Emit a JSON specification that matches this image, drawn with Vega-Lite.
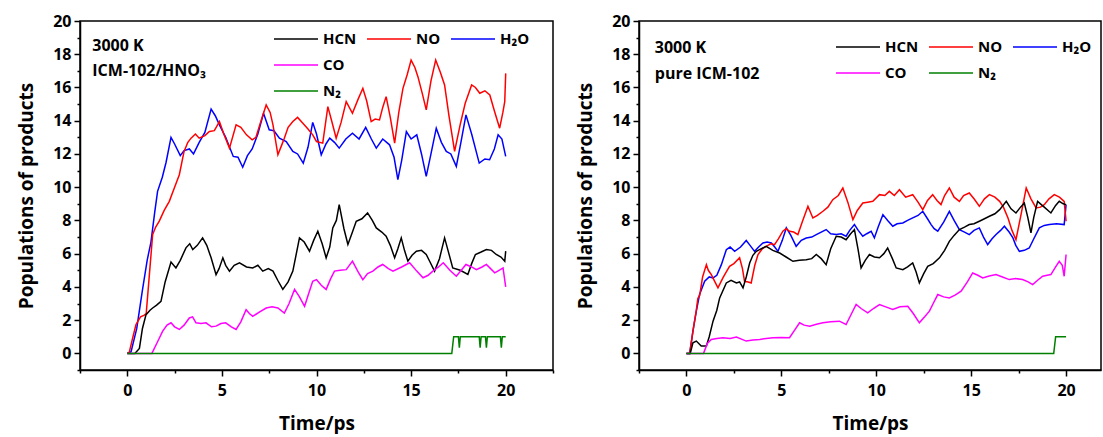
{
"$schema": "https://vega.github.io/schema/vega-lite/v6.json",
"padding": {"left": 16, "top": 12, "right": 0, "bottom": 0},
"background": "white",
"config": {
  "font": "Open Sans",
  "view": {"stroke": "black", "strokeWidth": 1.5},
  "axis": {"grid": false, "domainColor": "black", "domainWidth": 1.5, "tickColor": "black", "tickWidth": 1.5, "tickSize": 6, "labelFont": "Open Sans", "labelFontWeight": "bold", "labelFontSize": 16, "labelColor": "black", "labelPadding": 3, "titleFont": "Open Sans", "titleFontWeight": "bold", "titleFontSize": 19, "titleColor": "black"},
  "legend": {"orient": "none", "title": null, "direction": "horizontal", "symbolType": "M-2,0H2", "symbolSize": 484, "symbolStrokeWidth": 1.5, "labelFont": "Open Sans", "labelFontSize": 15, "labelFontWeight": "bold", "labelColor": "black", "labelOffset": 15, "columnPadding": 7, "rowPadding": 6, "padding": 0, "columns": 3}
},
"spacing": 20,
"resolve": {"scale": {"color": "independent"}},
"datasets": {
"left": [
{"s":"H₂O","t":0,"v":0},{"s":"H₂O","t":0.2,"v":0.1},{"s":"H₂O","t":0.5,"v":1.5},{"s":"H₂O","t":0.8,"v":3.8},{"s":"H₂O","t":1.05,"v":5.6},{"s":"H₂O","t":1.25,"v":6.7},{"s":"H₂O","t":1.45,"v":8.5},{"s":"H₂O","t":1.6,"v":9.75},{"s":"H₂O","t":1.85,"v":10.6},{"s":"H₂O","t":2.05,"v":11.5},{"s":"H₂O","t":2.31,"v":13.0},{"s":"H₂O","t":2.5,"v":12.6},{"s":"H₂O","t":2.8,"v":11.9},{"s":"H₂O","t":3.0,"v":12.2},{"s":"H₂O","t":3.28,"v":12.3},{"s":"H₂O","t":3.5,"v":12.0},{"s":"H₂O","t":3.8,"v":12.7},{"s":"H₂O","t":4.1,"v":13.3},{"s":"H₂O","t":4.43,"v":14.7},{"s":"H₂O","t":4.65,"v":14.3},{"s":"H₂O","t":4.87,"v":13.75},{"s":"H₂O","t":5.2,"v":13.0},{"s":"H₂O","t":5.6,"v":11.85},{"s":"H₂O","t":5.85,"v":11.8},{"s":"H₂O","t":6.1,"v":11.2},{"s":"H₂O","t":6.35,"v":11.9},{"s":"H₂O","t":6.6,"v":12.3},{"s":"H₂O","t":6.9,"v":13.2},{"s":"H₂O","t":7.2,"v":14.45},{"s":"H₂O","t":7.5,"v":13.45},{"s":"H₂O","t":7.75,"v":13.4},{"s":"H₂O","t":8.04,"v":12.95},{"s":"H₂O","t":8.4,"v":12.75},{"s":"H₂O","t":8.75,"v":12.15},{"s":"H₂O","t":9.0,"v":12.0},{"s":"H₂O","t":9.3,"v":11.45},{"s":"H₂O","t":9.55,"v":12.4},{"s":"H₂O","t":9.8,"v":13.9},{"s":"H₂O","t":10.0,"v":13.2},{"s":"H₂O","t":10.25,"v":11.95},{"s":"H₂O","t":10.5,"v":12.6},{"s":"H₂O","t":10.7,"v":12.95},{"s":"H₂O","t":10.95,"v":12.7},{"s":"H₂O","t":11.2,"v":12.35},{"s":"H₂O","t":11.55,"v":12.9},{"s":"H₂O","t":11.9,"v":13.25},{"s":"H₂O","t":12.25,"v":12.9},{"s":"H₂O","t":12.6,"v":13.6},{"s":"H₂O","t":12.9,"v":12.9},{"s":"H₂O","t":13.16,"v":12.35},{"s":"H₂O","t":13.5,"v":12.9},{"s":"H₂O","t":13.86,"v":12.55},{"s":"H₂O","t":14.1,"v":11.8},{"s":"H₂O","t":14.3,"v":10.45},{"s":"H₂O","t":14.5,"v":11.6},{"s":"H₂O","t":14.75,"v":13.35},{"s":"H₂O","t":15.0,"v":12.9},{"s":"H₂O","t":15.3,"v":13.15},{"s":"H₂O","t":15.55,"v":12.0},{"s":"H₂O","t":15.8,"v":10.65},{"s":"H₂O","t":16.05,"v":12.0},{"s":"H₂O","t":16.33,"v":13.55},{"s":"H₂O","t":16.6,"v":12.7},{"s":"H₂O","t":16.86,"v":12.15},{"s":"H₂O","t":17.1,"v":12.0},{"s":"H₂O","t":17.39,"v":11.25},{"s":"H₂O","t":17.65,"v":12.8},{"s":"H₂O","t":17.9,"v":14.35},{"s":"H₂O","t":18.2,"v":13.2},{"s":"H₂O","t":18.6,"v":11.45},{"s":"H₂O","t":18.9,"v":11.7},{"s":"H₂O","t":19.15,"v":11.65},{"s":"H₂O","t":19.4,"v":12.3},{"s":"H₂O","t":19.6,"v":13.15},{"s":"H₂O","t":19.8,"v":12.9},{"s":"H₂O","t":20.0,"v":11.85},
{"s":"NO","t":0,"v":0},{"s":"NO","t":0.1,"v":0.05},{"s":"NO","t":0.3,"v":1.0},{"s":"NO","t":0.46,"v":1.74},{"s":"NO","t":0.7,"v":2.2},{"s":"NO","t":0.9,"v":2.3},{"s":"NO","t":1.0,"v":2.4},{"s":"NO","t":1.15,"v":4.5},{"s":"NO","t":1.34,"v":7.15},{"s":"NO","t":1.5,"v":7.6},{"s":"NO","t":1.69,"v":7.96},{"s":"NO","t":1.95,"v":8.6},{"s":"NO","t":2.22,"v":9.15},{"s":"NO","t":2.5,"v":10.0},{"s":"NO","t":2.75,"v":10.75},{"s":"NO","t":3.0,"v":12.15},{"s":"NO","t":3.2,"v":12.7},{"s":"NO","t":3.37,"v":12.95},{"s":"NO","t":3.6,"v":13.2},{"s":"NO","t":3.8,"v":12.95},{"s":"NO","t":4.1,"v":13.1},{"s":"NO","t":4.34,"v":13.35},{"s":"NO","t":4.6,"v":13.4},{"s":"NO","t":4.87,"v":13.95},{"s":"NO","t":5.1,"v":13.2},{"s":"NO","t":5.4,"v":12.35},{"s":"NO","t":5.75,"v":13.75},{"s":"NO","t":6.0,"v":13.6},{"s":"NO","t":6.3,"v":13.15},{"s":"NO","t":6.6,"v":12.85},{"s":"NO","t":6.8,"v":13.0},{"s":"NO","t":7.0,"v":13.75},{"s":"NO","t":7.34,"v":14.95},{"s":"NO","t":7.55,"v":14.5},{"s":"NO","t":7.7,"v":13.75},{"s":"NO","t":7.96,"v":11.95},{"s":"NO","t":8.15,"v":12.5},{"s":"NO","t":8.3,"v":12.95},{"s":"NO","t":8.5,"v":13.6},{"s":"NO","t":8.75,"v":13.95},{"s":"NO","t":9.0,"v":14.2},{"s":"NO","t":9.28,"v":13.85},{"s":"NO","t":9.55,"v":13.5},{"s":"NO","t":9.8,"v":13.15},{"s":"NO","t":10.0,"v":12.75},{"s":"NO","t":10.33,"v":12.65},{"s":"NO","t":10.6,"v":14.85},{"s":"NO","t":10.8,"v":14.0},{"s":"NO","t":11.04,"v":12.95},{"s":"NO","t":11.3,"v":13.9},{"s":"NO","t":11.57,"v":15.15},{"s":"NO","t":11.9,"v":14.45},{"s":"NO","t":12.2,"v":15.3},{"s":"NO","t":12.45,"v":15.95},{"s":"NO","t":12.65,"v":15.2},{"s":"NO","t":12.89,"v":13.95},{"s":"NO","t":13.1,"v":14.1},{"s":"NO","t":13.33,"v":14.05},{"s":"NO","t":13.5,"v":14.8},{"s":"NO","t":13.68,"v":15.45},{"s":"NO","t":13.9,"v":14.2},{"s":"NO","t":14.13,"v":12.65},{"s":"NO","t":14.35,"v":14.5},{"s":"NO","t":14.57,"v":15.95},{"s":"NO","t":14.8,"v":16.8},{"s":"NO","t":15.0,"v":17.65},{"s":"NO","t":15.2,"v":17.2},{"s":"NO","t":15.36,"v":16.65},{"s":"NO","t":15.6,"v":15.6},{"s":"NO","t":15.8,"v":14.65},{"s":"NO","t":16.05,"v":16.4},{"s":"NO","t":16.3,"v":17.65},{"s":"NO","t":16.55,"v":16.9},{"s":"NO","t":16.77,"v":16.15},{"s":"NO","t":17.0,"v":14.3},{"s":"NO","t":17.3,"v":12.15},{"s":"NO","t":17.6,"v":13.8},{"s":"NO","t":17.86,"v":15.05},{"s":"NO","t":18.2,"v":16.15},{"s":"NO","t":18.4,"v":16.0},{"s":"NO","t":18.63,"v":15.65},{"s":"NO","t":18.9,"v":15.8},{"s":"NO","t":19.16,"v":15.55},{"s":"NO","t":19.4,"v":14.6},{"s":"NO","t":19.68,"v":13.55},{"s":"NO","t":19.85,"v":14.5},{"s":"NO","t":19.95,"v":15.15},{"s":"NO","t":20.0,"v":16.85},
{"s":"HCN","t":0,"v":0},{"s":"HCN","t":0.4,"v":0},{"s":"HCN","t":0.64,"v":0.3},{"s":"HCN","t":0.8,"v":1.5},{"s":"HCN","t":0.99,"v":2.33},{"s":"HCN","t":1.2,"v":2.6},{"s":"HCN","t":1.34,"v":2.73},{"s":"HCN","t":1.55,"v":2.9},{"s":"HCN","t":1.78,"v":3.13},{"s":"HCN","t":2.0,"v":4.3},{"s":"HCN","t":2.31,"v":5.5},{"s":"HCN","t":2.57,"v":5.14},{"s":"HCN","t":2.8,"v":5.6},{"s":"HCN","t":3.1,"v":6.35},{"s":"HCN","t":3.3,"v":6.6},{"s":"HCN","t":3.46,"v":6.25},{"s":"HCN","t":3.7,"v":6.5},{"s":"HCN","t":3.98,"v":6.95},{"s":"HCN","t":4.2,"v":6.5},{"s":"HCN","t":4.43,"v":5.75},{"s":"HCN","t":4.69,"v":4.74},{"s":"HCN","t":4.85,"v":5.1},{"s":"HCN","t":5.05,"v":5.75},{"s":"HCN","t":5.2,"v":5.3},{"s":"HCN","t":5.4,"v":4.95},{"s":"HCN","t":5.65,"v":5.3},{"s":"HCN","t":5.93,"v":5.45},{"s":"HCN","t":6.3,"v":5.2},{"s":"HCN","t":6.63,"v":5.14},{"s":"HCN","t":6.9,"v":5.3},{"s":"HCN","t":7.16,"v":4.95},{"s":"HCN","t":7.45,"v":5.1},{"s":"HCN","t":7.7,"v":4.95},{"s":"HCN","t":7.95,"v":4.4},{"s":"HCN","t":8.22,"v":3.85},{"s":"HCN","t":8.5,"v":4.3},{"s":"HCN","t":8.75,"v":4.95},{"s":"HCN","t":9.1,"v":6.95},{"s":"HCN","t":9.35,"v":6.7},{"s":"HCN","t":9.63,"v":6.15},{"s":"HCN","t":9.85,"v":6.8},{"s":"HCN","t":10.07,"v":7.35},{"s":"HCN","t":10.3,"v":6.6},{"s":"HCN","t":10.51,"v":5.75},{"s":"HCN","t":10.7,"v":6.4},{"s":"HCN","t":10.86,"v":7.55},{"s":"HCN","t":11.05,"v":8.0},{"s":"HCN","t":11.2,"v":8.95},{"s":"HCN","t":11.45,"v":7.5},{"s":"HCN","t":11.66,"v":6.55},{"s":"HCN","t":11.9,"v":7.3},{"s":"HCN","t":12.1,"v":7.95},{"s":"HCN","t":12.4,"v":8.1},{"s":"HCN","t":12.7,"v":8.45},{"s":"HCN","t":12.95,"v":8.0},{"s":"HCN","t":13.16,"v":7.55},{"s":"HCN","t":13.45,"v":7.3},{"s":"HCN","t":13.68,"v":7.05},{"s":"HCN","t":13.9,"v":6.5},{"s":"HCN","t":14.13,"v":5.75},{"s":"HCN","t":14.3,"v":6.3},{"s":"HCN","t":14.48,"v":6.95},{"s":"HCN","t":14.65,"v":6.2},{"s":"HCN","t":14.83,"v":5.55},{"s":"HCN","t":15.05,"v":5.9},{"s":"HCN","t":15.28,"v":6.15},{"s":"HCN","t":15.55,"v":6.2},{"s":"HCN","t":15.8,"v":5.95},{"s":"HCN","t":16.0,"v":5.5},{"s":"HCN","t":16.24,"v":4.95},{"s":"HCN","t":16.5,"v":5.7},{"s":"HCN","t":16.77,"v":6.95},{"s":"HCN","t":16.95,"v":6.2},{"s":"HCN","t":17.2,"v":5.14},{"s":"HCN","t":17.6,"v":5.0},{"s":"HCN","t":18.0,"v":4.75},{"s":"HCN","t":18.2,"v":5.4},{"s":"HCN","t":18.4,"v":5.95},{"s":"HCN","t":18.7,"v":6.1},{"s":"HCN","t":18.98,"v":6.25},{"s":"HCN","t":19.25,"v":6.2},{"s":"HCN","t":19.5,"v":5.95},{"s":"HCN","t":19.75,"v":5.8},{"s":"HCN","t":19.95,"v":5.55},{"s":"HCN","t":20.0,"v":6.15},
{"s":"CO","t":0,"v":0},{"s":"CO","t":1.3,"v":0},{"s":"CO","t":1.6,"v":0.7},{"s":"CO","t":1.87,"v":1.34},{"s":"CO","t":2.1,"v":1.7},{"s":"CO","t":2.31,"v":1.84},{"s":"CO","t":2.5,"v":1.6},{"s":"CO","t":2.75,"v":1.44},{"s":"CO","t":3.0,"v":1.7},{"s":"CO","t":3.28,"v":2.13},{"s":"CO","t":3.45,"v":2.2},{"s":"CO","t":3.63,"v":1.84},{"s":"CO","t":3.9,"v":1.8},{"s":"CO","t":4.16,"v":1.84},{"s":"CO","t":4.45,"v":1.6},{"s":"CO","t":4.69,"v":1.64},{"s":"CO","t":4.95,"v":1.8},{"s":"CO","t":5.2,"v":1.84},{"s":"CO","t":5.5,"v":1.6},{"s":"CO","t":5.75,"v":1.44},{"s":"CO","t":6.0,"v":1.9},{"s":"CO","t":6.28,"v":2.63},{"s":"CO","t":6.45,"v":2.4},{"s":"CO","t":6.63,"v":2.23},{"s":"CO","t":7.0,"v":2.5},{"s":"CO","t":7.34,"v":2.73},{"s":"CO","t":7.65,"v":2.8},{"s":"CO","t":7.96,"v":2.73},{"s":"CO","t":8.3,"v":2.43},{"s":"CO","t":8.55,"v":3.0},{"s":"CO","t":8.84,"v":3.85},{"s":"CO","t":9.1,"v":3.4},{"s":"CO","t":9.37,"v":2.83},{"s":"CO","t":9.6,"v":3.65},{"s":"CO","t":9.8,"v":4.34},{"s":"CO","t":10.0,"v":4.44},{"s":"CO","t":10.25,"v":4.1},{"s":"CO","t":10.51,"v":3.85},{"s":"CO","t":10.75,"v":4.5},{"s":"CO","t":10.95,"v":4.95},{"s":"CO","t":11.25,"v":5.0},{"s":"CO","t":11.57,"v":5.04},{"s":"CO","t":11.9,"v":5.55},{"s":"CO","t":12.2,"v":4.9},{"s":"CO","t":12.45,"v":4.44},{"s":"CO","t":12.7,"v":4.8},{"s":"CO","t":12.98,"v":4.95},{"s":"CO","t":13.25,"v":5.2},{"s":"CO","t":13.5,"v":5.35},{"s":"CO","t":13.8,"v":5.1},{"s":"CO","t":14.04,"v":4.95},{"s":"CO","t":14.5,"v":5.2},{"s":"CO","t":14.92,"v":5.45},{"s":"CO","t":15.3,"v":4.95},{"s":"CO","t":15.63,"v":4.55},{"s":"CO","t":15.9,"v":4.7},{"s":"CO","t":16.15,"v":4.95},{"s":"CO","t":16.45,"v":5.2},{"s":"CO","t":16.7,"v":5.45},{"s":"CO","t":17.05,"v":5.0},{"s":"CO","t":17.39,"v":4.64},{"s":"CO","t":17.65,"v":5.0},{"s":"CO","t":17.9,"v":5.35},{"s":"CO","t":18.2,"v":5.2},{"s":"CO","t":18.45,"v":5.04},{"s":"CO","t":18.75,"v":5.2},{"s":"CO","t":18.98,"v":5.35},{"s":"CO","t":19.2,"v":5.1},{"s":"CO","t":19.42,"v":4.85},{"s":"CO","t":19.65,"v":5.0},{"s":"CO","t":19.86,"v":5.14},{"s":"CO","t":20.0,"v":4.0},
{"s":"N₂","t":0,"v":0},{"s":"N₂","t":17.15,"v":0},{"s":"N₂","t":17.25,"v":1},{"s":"N₂","t":17.5,"v":1},{"s":"N₂","t":17.55,"v":0.35},{"s":"N₂","t":17.6,"v":1},{"s":"N₂","t":18.6,"v":1},{"s":"N₂","t":18.65,"v":0.35},{"s":"N₂","t":18.7,"v":1},{"s":"N₂","t":18.93,"v":1},{"s":"N₂","t":18.98,"v":0.35},{"s":"N₂","t":19.03,"v":1},{"s":"N₂","t":19.72,"v":1},{"s":"N₂","t":19.77,"v":0.35},{"s":"N₂","t":19.82,"v":1},{"s":"N₂","t":20.0,"v":1}
],
"right": [
{"s":"H₂O","t":0,"v":0},{"s":"H₂O","t":0.17,"v":0},{"s":"H₂O","t":0.35,"v":1.4},{"s":"H₂O","t":0.52,"v":2.54},{"s":"H₂O","t":0.69,"v":3.54},{"s":"H₂O","t":0.96,"v":4.34},{"s":"H₂O","t":1.2,"v":4.6},{"s":"H₂O","t":1.4,"v":4.54},{"s":"H₂O","t":1.6,"v":4.7},{"s":"H₂O","t":1.84,"v":5.34},{"s":"H₂O","t":2.1,"v":6.24},{"s":"H₂O","t":2.3,"v":6.4},{"s":"H₂O","t":2.54,"v":6.14},{"s":"H₂O","t":2.85,"v":6.4},{"s":"H₂O","t":3.15,"v":6.79},{"s":"H₂O","t":3.35,"v":6.5},{"s":"H₂O","t":3.59,"v":6.14},{"s":"H₂O","t":3.8,"v":6.4},{"s":"H₂O","t":4.03,"v":6.64},{"s":"H₂O","t":4.25,"v":6.7},{"s":"H₂O","t":4.47,"v":6.64},{"s":"H₂O","t":4.65,"v":6.4},{"s":"H₂O","t":4.82,"v":6.14},{"s":"H₂O","t":5.05,"v":6.8},{"s":"H₂O","t":5.26,"v":7.55},{"s":"H₂O","t":5.5,"v":7.1},{"s":"H₂O","t":5.78,"v":6.44},{"s":"H₂O","t":6.05,"v":6.8},{"s":"H₂O","t":6.31,"v":6.94},{"s":"H₂O","t":6.6,"v":7.0},{"s":"H₂O","t":6.84,"v":7.15},{"s":"H₂O","t":7.1,"v":7.3},{"s":"H₂O","t":7.36,"v":7.45},{"s":"H₂O","t":7.6,"v":7.2},{"s":"H₂O","t":7.89,"v":7.15},{"s":"H₂O","t":8.15,"v":7.2},{"s":"H₂O","t":8.41,"v":7.05},{"s":"H₂O","t":8.6,"v":7.4},{"s":"H₂O","t":8.85,"v":7.75},{"s":"H₂O","t":9.05,"v":7.4},{"s":"H₂O","t":9.29,"v":7.05},{"s":"H₂O","t":9.5,"v":7.2},{"s":"H₂O","t":9.73,"v":7.35},{"s":"H₂O","t":9.9,"v":6.95},{"s":"H₂O","t":10.1,"v":7.6},{"s":"H₂O","t":10.35,"v":8.35},{"s":"H₂O","t":10.6,"v":8.0},{"s":"H₂O","t":10.87,"v":7.65},{"s":"H₂O","t":11.1,"v":7.8},{"s":"H₂O","t":11.4,"v":7.85},{"s":"H₂O","t":11.65,"v":8.0},{"s":"H₂O","t":11.92,"v":8.15},{"s":"H₂O","t":12.2,"v":8.3},{"s":"H₂O","t":12.45,"v":8.55},{"s":"H₂O","t":12.7,"v":8.1},{"s":"H₂O","t":12.89,"v":7.75},{"s":"H₂O","t":13.05,"v":7.5},{"s":"H₂O","t":13.24,"v":7.35},{"s":"H₂O","t":13.55,"v":7.9},{"s":"H₂O","t":13.85,"v":8.55},{"s":"H₂O","t":14.1,"v":8.0},{"s":"H₂O","t":14.38,"v":7.45},{"s":"H₂O","t":14.65,"v":7.3},{"s":"H₂O","t":14.9,"v":7.15},{"s":"H₂O","t":15.15,"v":7.4},{"s":"H₂O","t":15.43,"v":7.55},{"s":"H₂O","t":15.65,"v":7.0},{"s":"H₂O","t":15.87,"v":6.55},{"s":"H₂O","t":16.1,"v":6.9},{"s":"H₂O","t":16.31,"v":7.15},{"s":"H₂O","t":16.55,"v":7.4},{"s":"H₂O","t":16.75,"v":7.65},{"s":"H₂O","t":17.0,"v":7.3},{"s":"H₂O","t":17.2,"v":6.95},{"s":"H₂O","t":17.35,"v":6.5},{"s":"H₂O","t":17.54,"v":6.14},{"s":"H₂O","t":17.8,"v":6.2},{"s":"H₂O","t":18.06,"v":6.34},{"s":"H₂O","t":18.3,"v":6.9},{"s":"H₂O","t":18.59,"v":7.55},{"s":"H₂O","t":18.85,"v":7.7},{"s":"H₂O","t":19.12,"v":7.75},{"s":"H₂O","t":19.5,"v":7.8},{"s":"H₂O","t":19.9,"v":7.75},{"s":"H₂O","t":20.0,"v":8.95},
{"s":"NO","t":0,"v":0},{"s":"NO","t":0.17,"v":0},{"s":"NO","t":0.35,"v":1.4},{"s":"NO","t":0.52,"v":2.6},{"s":"NO","t":0.6,"v":3.3},{"s":"NO","t":0.7,"v":3.5},{"s":"NO","t":0.85,"v":4.6},{"s":"NO","t":1.05,"v":5.34},{"s":"NO","t":1.15,"v":5.0},{"s":"NO","t":1.31,"v":4.74},{"s":"NO","t":1.5,"v":4.3},{"s":"NO","t":1.66,"v":3.94},{"s":"NO","t":1.92,"v":4.54},{"s":"NO","t":2.1,"v":4.9},{"s":"NO","t":2.27,"v":5.24},{"s":"NO","t":2.5,"v":5.4},{"s":"NO","t":2.8,"v":5.75},{"s":"NO","t":2.95,"v":5.1},{"s":"NO","t":3.06,"v":4.34},{"s":"NO","t":3.25,"v":4.3},{"s":"NO","t":3.41,"v":4.24},{"s":"NO","t":3.6,"v":5.3},{"s":"NO","t":3.77,"v":5.95},{"s":"NO","t":4.0,"v":6.3},{"s":"NO","t":4.2,"v":6.44},{"s":"NO","t":4.45,"v":6.6},{"s":"NO","t":4.64,"v":6.54},{"s":"NO","t":4.85,"v":6.9},{"s":"NO","t":5.08,"v":7.35},{"s":"NO","t":5.25,"v":7.5},{"s":"NO","t":5.43,"v":7.35},{"s":"NO","t":5.65,"v":7.3},{"s":"NO","t":5.87,"v":7.15},{"s":"NO","t":6.1,"v":7.9},{"s":"NO","t":6.4,"v":8.85},{"s":"NO","t":6.66,"v":8.15},{"s":"NO","t":6.9,"v":8.3},{"s":"NO","t":7.19,"v":8.55},{"s":"NO","t":7.45,"v":8.8},{"s":"NO","t":7.71,"v":9.25},{"s":"NO","t":8.0,"v":9.5},{"s":"NO","t":8.24,"v":9.95},{"s":"NO","t":8.5,"v":9.1},{"s":"NO","t":8.77,"v":8.05},{"s":"NO","t":9.0,"v":8.6},{"s":"NO","t":9.29,"v":9.05},{"s":"NO","t":9.55,"v":9.1},{"s":"NO","t":9.82,"v":9.15},{"s":"NO","t":10.17,"v":9.55},{"s":"NO","t":10.45,"v":9.5},{"s":"NO","t":10.69,"v":9.75},{"s":"NO","t":10.95,"v":9.5},{"s":"NO","t":11.22,"v":9.85},{"s":"NO","t":11.55,"v":9.4},{"s":"NO","t":11.92,"v":9.55},{"s":"NO","t":12.2,"v":9.1},{"s":"NO","t":12.45,"v":8.65},{"s":"NO","t":12.7,"v":9.2},{"s":"NO","t":12.97,"v":9.55},{"s":"NO","t":13.2,"v":9.2},{"s":"NO","t":13.41,"v":8.95},{"s":"NO","t":13.6,"v":9.5},{"s":"NO","t":13.85,"v":9.95},{"s":"NO","t":14.1,"v":9.4},{"s":"NO","t":14.38,"v":9.15},{"s":"NO","t":14.6,"v":9.5},{"s":"NO","t":14.9,"v":9.65},{"s":"NO","t":15.15,"v":9.3},{"s":"NO","t":15.43,"v":8.85},{"s":"NO","t":15.7,"v":9.3},{"s":"NO","t":15.96,"v":9.55},{"s":"NO","t":16.25,"v":9.4},{"s":"NO","t":16.5,"v":9.15},{"s":"NO","t":16.7,"v":8.8},{"s":"NO","t":16.94,"v":8.15},{"s":"NO","t":17.15,"v":7.4},{"s":"NO","t":17.36,"v":6.84},{"s":"NO","t":17.6,"v":8.2},{"s":"NO","t":17.9,"v":9.95},{"s":"NO","t":18.15,"v":9.3},{"s":"NO","t":18.42,"v":8.75},{"s":"NO","t":18.65,"v":8.8},{"s":"NO","t":18.85,"v":8.95},{"s":"NO","t":19.1,"v":9.3},{"s":"NO","t":19.38,"v":9.55},{"s":"NO","t":19.65,"v":9.4},{"s":"NO","t":19.9,"v":9.15},{"s":"NO","t":20.0,"v":7.95},
{"s":"HCN","t":0,"v":0},{"s":"HCN","t":0.2,"v":0},{"s":"HCN","t":0.34,"v":0.64},{"s":"HCN","t":0.52,"v":0.74},{"s":"HCN","t":0.78,"v":0.44},{"s":"HCN","t":1.05,"v":0.44},{"s":"HCN","t":1.2,"v":1.0},{"s":"HCN","t":1.4,"v":1.94},{"s":"HCN","t":1.6,"v":2.6},{"s":"HCN","t":1.75,"v":3.34},{"s":"HCN","t":2.1,"v":4.24},{"s":"HCN","t":2.35,"v":4.4},{"s":"HCN","t":2.63,"v":4.24},{"s":"HCN","t":2.8,"v":4.3},{"s":"HCN","t":2.98,"v":3.94},{"s":"HCN","t":3.15,"v":4.6},{"s":"HCN","t":3.33,"v":5.44},{"s":"HCN","t":3.5,"v":5.9},{"s":"HCN","t":3.68,"v":6.14},{"s":"HCN","t":3.95,"v":6.3},{"s":"HCN","t":4.2,"v":6.44},{"s":"HCN","t":4.55,"v":6.2},{"s":"HCN","t":4.91,"v":6.04},{"s":"HCN","t":5.25,"v":5.8},{"s":"HCN","t":5.61,"v":5.54},{"s":"HCN","t":5.95,"v":5.6},{"s":"HCN","t":6.31,"v":5.64},{"s":"HCN","t":6.6,"v":5.7},{"s":"HCN","t":6.84,"v":5.95},{"s":"HCN","t":7.1,"v":5.7},{"s":"HCN","t":7.36,"v":5.34},{"s":"HCN","t":7.6,"v":6.3},{"s":"HCN","t":7.89,"v":7.05},{"s":"HCN","t":8.15,"v":7.0},{"s":"HCN","t":8.41,"v":6.84},{"s":"HCN","t":8.65,"v":7.2},{"s":"HCN","t":8.85,"v":7.45},{"s":"HCN","t":9.05,"v":6.2},{"s":"HCN","t":9.2,"v":5.14},{"s":"HCN","t":9.42,"v":5.6},{"s":"HCN","t":9.64,"v":5.95},{"s":"HCN","t":9.9,"v":5.8},{"s":"HCN","t":10.17,"v":5.75},{"s":"HCN","t":10.4,"v":6.0},{"s":"HCN","t":10.6,"v":6.34},{"s":"HCN","t":10.85,"v":5.7},{"s":"HCN","t":11.05,"v":5.14},{"s":"HCN","t":11.4,"v":5.04},{"s":"HCN","t":11.65,"v":5.2},{"s":"HCN","t":11.92,"v":5.44},{"s":"HCN","t":12.1,"v":4.9},{"s":"HCN","t":12.27,"v":4.24},{"s":"HCN","t":12.5,"v":4.8},{"s":"HCN","t":12.71,"v":5.24},{"s":"HCN","t":13.0,"v":5.4},{"s":"HCN","t":13.33,"v":5.75},{"s":"HCN","t":13.6,"v":6.2},{"s":"HCN","t":13.85,"v":6.74},{"s":"HCN","t":14.1,"v":7.1},{"s":"HCN","t":14.38,"v":7.45},{"s":"HCN","t":14.65,"v":7.6},{"s":"HCN","t":14.9,"v":7.75},{"s":"HCN","t":15.15,"v":7.8},{"s":"HCN","t":15.43,"v":7.95},{"s":"HCN","t":15.7,"v":8.1},{"s":"HCN","t":15.96,"v":8.25},{"s":"HCN","t":16.25,"v":8.4},{"s":"HCN","t":16.5,"v":8.65},{"s":"HCN","t":16.85,"v":9.15},{"s":"HCN","t":17.1,"v":8.7},{"s":"HCN","t":17.36,"v":8.45},{"s":"HCN","t":17.6,"v":8.8},{"s":"HCN","t":17.8,"v":9.05},{"s":"HCN","t":17.98,"v":8.2},{"s":"HCN","t":18.15,"v":7.25},{"s":"HCN","t":18.3,"v":8.2},{"s":"HCN","t":18.5,"v":9.15},{"s":"HCN","t":18.85,"v":8.8},{"s":"HCN","t":19.2,"v":8.45},{"s":"HCN","t":19.45,"v":8.9},{"s":"HCN","t":19.64,"v":9.15},{"s":"HCN","t":19.85,"v":9.0},{"s":"HCN","t":20.0,"v":8.95},
{"s":"CO","t":0,"v":0},{"s":"CO","t":0.9,"v":0},{"s":"CO","t":1.1,"v":0.6},{"s":"CO","t":1.31,"v":0.84},{"s":"CO","t":1.6,"v":0.9},{"s":"CO","t":1.92,"v":0.94},{"s":"CO","t":2.3,"v":0.9},{"s":"CO","t":2.63,"v":0.98},{"s":"CO","t":3.15,"v":0.74},{"s":"CO","t":3.5,"v":0.8},{"s":"CO","t":3.86,"v":0.84},{"s":"CO","t":4.2,"v":0.9},{"s":"CO","t":4.56,"v":0.94},{"s":"CO","t":5.0,"v":0.95},{"s":"CO","t":5.43,"v":0.94},{"s":"CO","t":5.7,"v":1.4},{"s":"CO","t":5.96,"v":1.84},{"s":"CO","t":6.2,"v":1.7},{"s":"CO","t":6.49,"v":1.64},{"s":"CO","t":6.85,"v":1.75},{"s":"CO","t":7.19,"v":1.84},{"s":"CO","t":7.6,"v":1.9},{"s":"CO","t":8.06,"v":1.94},{"s":"CO","t":8.41,"v":1.74},{"s":"CO","t":8.7,"v":2.4},{"s":"CO","t":8.94,"v":2.94},{"s":"CO","t":9.2,"v":2.7},{"s":"CO","t":9.55,"v":2.44},{"s":"CO","t":9.85,"v":2.7},{"s":"CO","t":10.17,"v":2.94},{"s":"CO","t":10.5,"v":2.8},{"s":"CO","t":10.87,"v":2.64},{"s":"CO","t":11.25,"v":2.8},{"s":"CO","t":11.66,"v":2.84},{"s":"CO","t":11.95,"v":2.4},{"s":"CO","t":12.27,"v":1.84},{"s":"CO","t":12.55,"v":2.2},{"s":"CO","t":12.8,"v":2.54},{"s":"CO","t":13.0,"v":3.0},{"s":"CO","t":13.24,"v":3.54},{"s":"CO","t":13.55,"v":3.4},{"s":"CO","t":13.85,"v":3.34},{"s":"CO","t":14.15,"v":3.5},{"s":"CO","t":14.47,"v":3.74},{"s":"CO","t":14.8,"v":4.3},{"s":"CO","t":15.08,"v":4.84},{"s":"CO","t":15.35,"v":4.7},{"s":"CO","t":15.61,"v":4.54},{"s":"CO","t":15.95,"v":4.65},{"s":"CO","t":16.31,"v":4.74},{"s":"CO","t":16.65,"v":4.6},{"s":"CO","t":17.01,"v":4.44},{"s":"CO","t":17.35,"v":4.5},{"s":"CO","t":17.71,"v":4.44},{"s":"CO","t":18.0,"v":4.3},{"s":"CO","t":18.24,"v":4.14},{"s":"CO","t":18.5,"v":4.4},{"s":"CO","t":18.77,"v":4.64},{"s":"CO","t":19.0,"v":4.7},{"s":"CO","t":19.2,"v":4.74},{"s":"CO","t":19.45,"v":5.2},{"s":"CO","t":19.64,"v":5.54},{"s":"CO","t":19.8,"v":5.3},{"s":"CO","t":19.9,"v":4.64},{"s":"CO","t":20.0,"v":5.95},
{"s":"N₂","t":0,"v":0},{"s":"N₂","t":19.35,"v":0},{"s":"N₂","t":19.45,"v":1},{"s":"N₂","t":20.0,"v":1}
]
},
"hconcat": [
{
  "width": 473, "height": 349,
  "resolve": {"axis": {"x": "independent", "y": "independent"}},
  "layer": [
    {
      "data": {"name": "left"},
      "mark": {"type": "line", "strokeWidth": 1.5},
      "encoding": {
        "x": {"field": "t", "type": "quantitative", "scale": {"domain": [-2.5, 22.5], "nice": false, "zero": false}, "axis": {"orient": "bottom", "values": [0, 5, 10, 15, 20], "title": "Time/ps", "titlePadding": 16, "labelPadding": 6}},
        "y": {"field": "v", "type": "quantitative", "scale": {"domain": [-1, 20], "nice": false, "zero": false}, "axis": {"orient": "left", "values": [0, 2, 4, 6, 8, 10, 12, 14, 16, 18, 20], "title": "Populations of products", "titlePadding": 16}},
        "color": {"field": "s", "type": "nominal", "scale": {"domain": ["HCN", "NO", "H₂O", "CO", " ", "  ", "N₂"], "range": ["#000000", "#ff0000", "#0000ff", "#ff00ff", "transparent", "transparent", "#008000"]}, "legend": {"legendX": 204, "legendY": 6, "columns": 3, "direction": "horizontal"}}
      }
    },
    {
      "data": {"values": [{}]},
      "mark": {"type": "text", "align": "left", "baseline": "alphabetic", "fontSize": 16, "fontWeight": "bold", "font": "Open Sans", "color": "black", "lineHeight": 25},
      "encoding": {
        "x": {"datum": -1.85, "type": "quantitative", "axis": {"orient": "bottom", "values": [-2.5, 2.5, 7.5, 12.5, 17.5, 22.5], "labels": false, "domain": false, "tickSize": 3, "title": null}},
        "y": {"datum": 18.2, "type": "quantitative", "axis": {"orient": "left", "values": [-1, 1, 3, 5, 7, 9, 11, 13, 15, 17, 19], "labels": false, "domain": false, "tickSize": 3, "title": null}},
        "text": {"value": ["3000 K", "ICM-102/HNO₃"]}
      }
    }
  ]
},
{
  "width": 462, "height": 349,
  "resolve": {"axis": {"x": "independent", "y": "independent"}},
  "layer": [
    {
      "data": {"name": "right"},
      "mark": {"type": "line", "strokeWidth": 1.5},
      "encoding": {
        "x": {"field": "t", "type": "quantitative", "scale": {"domain": [-2.5, 21.84], "nice": false, "zero": false}, "axis": {"orient": "bottom", "values": [0, 5, 10, 15, 20], "title": "Time/ps", "titlePadding": 16, "labelPadding": 6}},
        "y": {"field": "v", "type": "quantitative", "scale": {"domain": [-1, 20], "nice": false, "zero": false}, "axis": {"orient": "left", "values": [0, 2, 4, 6, 8, 10, 12, 14, 16, 18, 20], "title": "Populations of products", "titlePadding": 16}},
        "color": {"field": "s", "type": "nominal", "scale": {"domain": ["HCN", "NO", "H₂O", "CO", "N₂"], "range": ["#000000", "#ff0000", "#0000ff", "#ff00ff", "#008000"]}, "legend": {"legendX": 207, "legendY": 14, "columns": 3, "direction": "horizontal"}}
      }
    },
    {
      "data": {"values": [{}]},
      "mark": {"type": "text", "align": "left", "baseline": "alphabetic", "fontSize": 16, "fontWeight": "bold", "font": "Open Sans", "color": "black", "lineHeight": 26},
      "encoding": {
        "x": {"datum": -1.67, "type": "quantitative", "axis": {"orient": "bottom", "values": [-2.5, 2.5, 7.5, 12.5, 17.5], "labels": false, "domain": false, "tickSize": 3, "title": null}},
        "y": {"datum": 18.05, "type": "quantitative", "axis": {"orient": "left", "values": [-1, 1, 3, 5, 7, 9, 11, 13, 15, 17, 19], "labels": false, "domain": false, "tickSize": 3, "title": null}},
        "text": {"value": ["3000 K", "pure ICM-102"]}
      }
    }
  ]
}
]
}
